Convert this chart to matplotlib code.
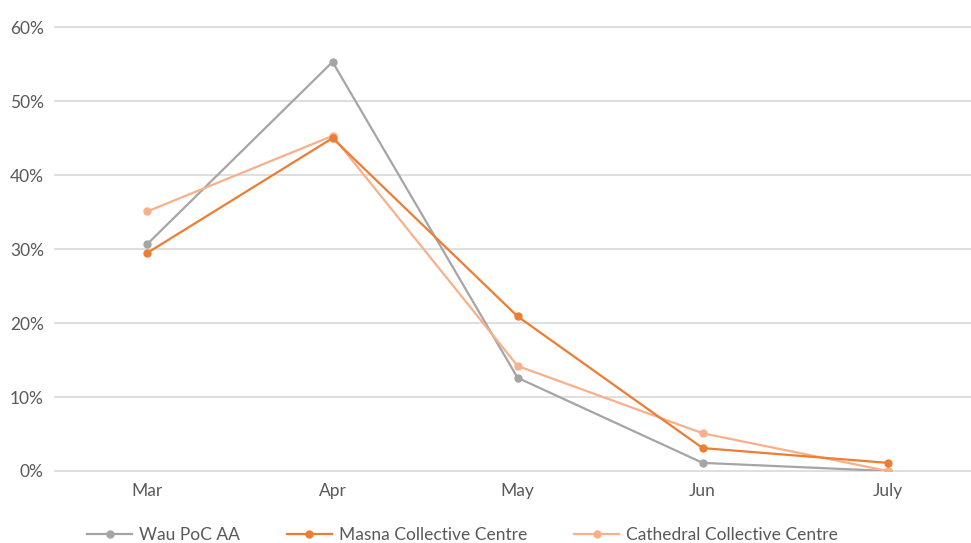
import matplotlib.pyplot as plt
from matplotlib.ticker import PercentFormatter

months = ['Mar', 'Apr', 'May', 'Jun', 'July']
wau = [30.7, 55.3, 12.6, 1.1, 0.0]
masna = [29.5, 45.0, 20.9, 3.1, 1.1]
cathedral = [35.1, 45.3, 14.2, 5.1, 0.0]

plt.rcParams['font.family'] = ['Lato', 'DejaVu Sans']

fig = plt.figure(figsize=(9.71, 5.43), dpi=100)
ax = fig.add_axes([0.0566, 0.1326, 0.9434, 0.8174])

x = range(len(months))
ax.plot(x, wau, color='#A5A5A5', lw=1.6, marker='o', ms=5, label='Wau PoC AA', zorder=3)
ax.plot(x, masna, color='#ED7D31', lw=1.6, marker='o', ms=5, label='Masna Collective Centre', zorder=4)
ax.plot(x, cathedral, color='#F8B08A', lw=1.6, marker='o', ms=5, label='Cathedral Collective Centre', zorder=3)

ax.set_ylim(0, 60)
ax.set_yticks(range(0, 61, 10))
ax.yaxis.set_major_formatter(PercentFormatter(decimals=0))
ax.set_xlim(-0.5, 4.45)
ax.set_xticks(list(x))
ax.set_xticklabels(months)

ax.grid(axis='y', color='#D9D9D9', lw=1.2)
ax.set_axisbelow(True)
for gl in ax.get_ygridlines():
    gl.set_clip_on(False)
for s in ax.spines.values():
    s.set_visible(False)
ax.tick_params(length=0, labelsize=12.5, colors='#595959')
ax.tick_params(axis='y', pad=8)
ax.tick_params(axis='x', pad=9)

ax.legend(loc='upper center', bbox_to_anchor=(0.445, -0.092), ncol=3, frameon=False,
          fontsize=12.5, labelcolor='#595959', columnspacing=2.7, handlelength=2.6,
          handletextpad=0.4)

fig.savefig('out.png', dpi=100)
